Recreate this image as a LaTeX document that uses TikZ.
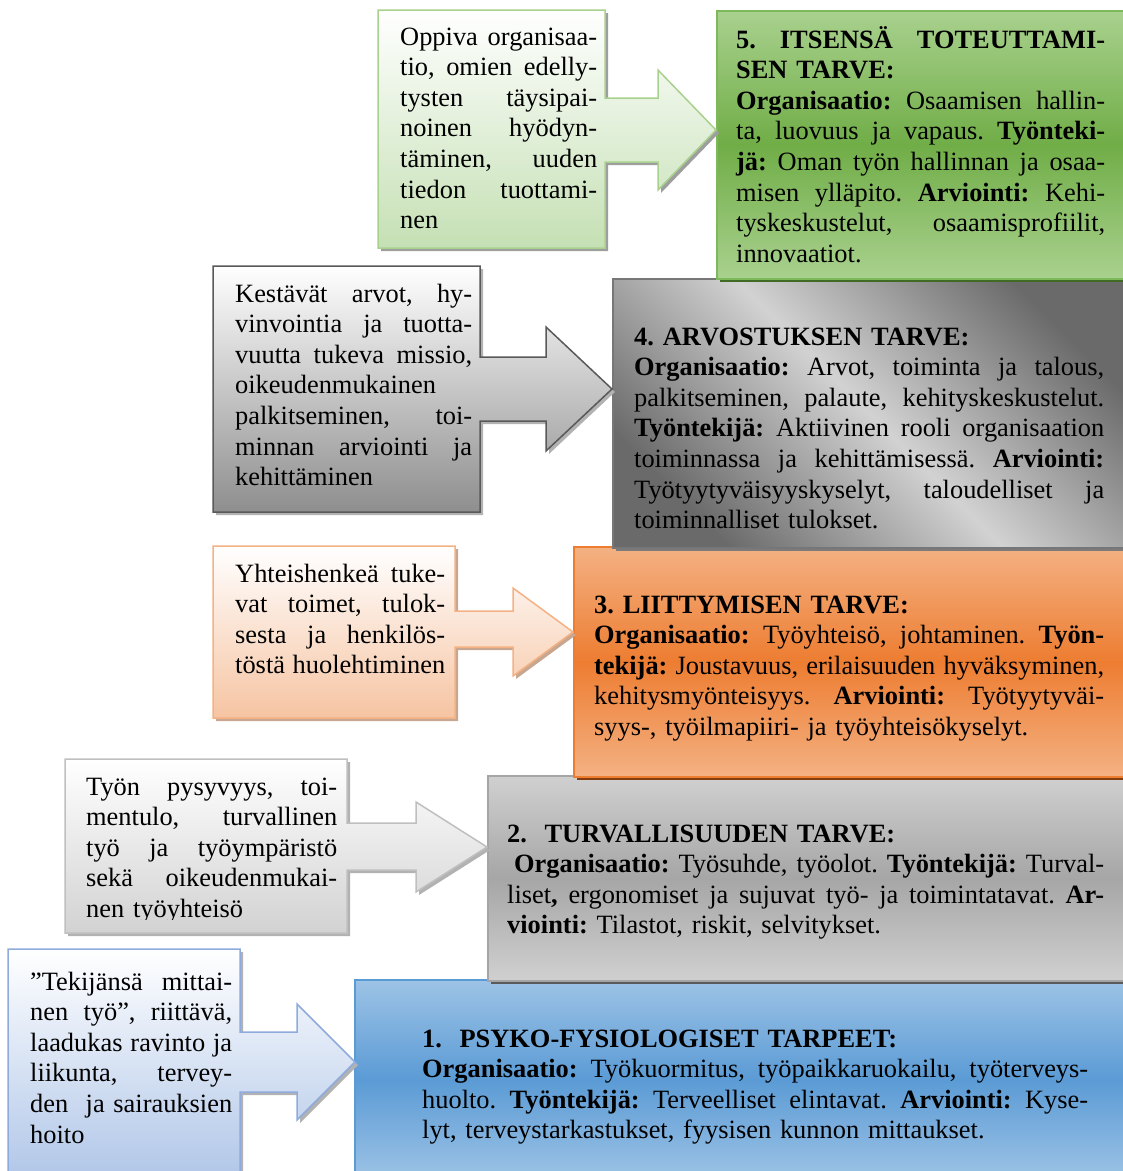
\documentclass[tikz,border=0pt]{standalone}
\usepackage{fontspec}
\setmainfont{Liberation Serif}
\usetikzlibrary{shadows}
\definecolor{gAtop}{HTML}{A9D18E}
\definecolor{gAmid}{HTML}{70AD47}
\definecolor{gAline}{HTML}{7DB85A}
\definecolor{gAsh}{HTML}{3F6B25}
\definecolor{grDark}{HTML}{6A6A6A}
\definecolor{grLight}{HTML}{D2D2D2}
\definecolor{grLine}{HTML}{777777}
\definecolor{grSh}{HTML}{5A5A5A}
\definecolor{orTop}{HTML}{F4B183}
\definecolor{orMid}{HTML}{ED7D31}
\definecolor{orLine}{HTML}{ED7D31}
\definecolor{orSh}{HTML}{843C0C}
\definecolor{g2Top}{HTML}{D0D0D0}
\definecolor{g2Mid}{HTML}{A6A6A6}
\definecolor{g2Line}{HTML}{A5A5A5}
\definecolor{blTop}{HTML}{9DC3E6}
\definecolor{blMid}{HTML}{5B9BD5}
\definecolor{blLine}{HTML}{5B9BD5}
\definecolor{aGreen}{HTML}{C5E0B4}
\definecolor{aGreenLine}{HTML}{A9D18E}
\definecolor{aGrey}{HTML}{8E8E8E}
\definecolor{aGreyLine}{HTML}{595959}
\definecolor{aOrange}{HTML}{F6C4A2}
\definecolor{aOrangeLine}{HTML}{F4B183}
\definecolor{aLight}{HTML}{D2D2D2}
\definecolor{aLightLine}{HTML}{BFBFBF}
\definecolor{aBlue}{HTML}{B0C6E8}
\definecolor{aBlueLine}{HTML}{8FAADC}
\newcommand\lw{100pt}
\newcommand\jl[1]{\leavevmode\hbox to\lw{\spaceskip=0.25em plus 20em minus 0.05em\relax #1}}
\begin{document}
\begin{tikzpicture}[x=1pt,y=-1pt,
  needbox/.style={line width=1.5pt, anchor=north west, inner sep=0pt},
  callout/.style={line width=1.5pt, line join=miter},
  txt/.style={anchor=base west, inner sep=0pt, text width=#1, align=left,
    execute at begin node={\renewcommand\lw{#1}},
    font=\fontsize{26.4pt}{30.6pt}\selectfont\frenchspacing},
  csh/.style={general shadow={shadow xshift=3pt, shadow yshift=-3pt, fill=#1}}
]
\useasboundingbox (0,0) rectangle (1123,1171);

% ---- need boxes (bottom to top) ----
\node[needbox, draw=blLine, top color=blTop, bottom color=blTop, middle color=blMid,
  minimum width=772pt, minimum height=200pt] (n1) at (354,979) {};
\node[needbox, draw=g2Line, top color=g2Top, bottom color=g2Top, middle color=g2Mid,
  minimum width=639pt, minimum height=205pt, csh=grSh] (n2) at (487,775) {};
\node[needbox, draw=orLine, top color=orTop, bottom color=orTop, middle color=orMid,
  minimum width=553pt, minimum height=230pt, csh=orSh] (n3) at (573,546) {};
\node[needbox, draw=grLine, top color=grDark, bottom color=grDark, middle color=grLight,
  shading angle=-45, minimum width=514pt, minimum height=269pt, csh=grSh!80] (n4) at (612,278) {};
\node[needbox, draw=gAline, top color=gAtop, bottom color=gAtop, middle color=gAmid,
  minimum width=410pt, minimum height=268pt, csh=gAsh] (n5) at (716,10) {};

% ---- callout arrows ----
\draw[callout, draw=aGreenLine, top color=white, bottom color=aGreen, csh=black!38]
  (378,10) -- (605,10) -- (605,98) -- (658,98) -- (658,70) -- (716,130)
  -- (658,190) -- (658,162) -- (605,162) -- (605,248) -- (378,248) -- cycle;
\draw[callout, draw=aGreyLine, top color=white, bottom color=aGrey, csh=black!30]
  (213,266) -- (480,266) -- (480,357) -- (546,357) -- (546,327) -- (612,389)
  -- (546,451) -- (546,421) -- (480,421) -- (480,512) -- (213,512) -- cycle;
\draw[callout, draw=aOrangeLine, top color=white, bottom color=aOrange, csh=orSh!45]
  (213,546) -- (455,546) -- (455,611) -- (513,611) -- (513,588) -- (573,632)
  -- (513,676) -- (513,647) -- (455,647) -- (455,718) -- (213,718) -- cycle;
\draw[callout, draw=aLightLine, top color=white, bottom color=aLight, csh=black!30]
  (65,759) -- (347,759) -- (347,823) -- (416,823) -- (416,802) -- (487,847)
  -- (416,892) -- (416,870) -- (347,870) -- (347,933) -- (65,933) -- cycle;
\draw[callout, draw=aBlueLine, top color=white, bottom color=aBlue, csh=black!30]
  (8,949) -- (240,949) -- (240,1032) -- (297,1032) -- (297,1004) -- (355,1062)
  -- (297,1120) -- (297,1092) -- (240,1092) -- (240,1180) -- (8,1180) -- cycle;

% ---- texts of need boxes ----
\node[txt=369pt] (t5) at (736,48) {%
\jl{\textbf{5. ITSENSÄ TOTEUTTAMI-}}\\
\textbf{SEN TARVE:}\\
\jl{\textbf{Organisaatio:} Osaamisen hallin-}\\
\jl{ta, luovuus ja vapaus. \textbf{Työnteki-}}\\
\jl{\textbf{jä:} Oman työn hallinnan ja osaa-}\\
\jl{misen ylläpito. \textbf{Arviointi:} Kehi-}\\
\jl{tyskeskustelut, osaamisprofiilit,}\\
innovaatiot.};

\node[txt=470pt] (t4) at (634,345) {%
\textbf{4. ARVOSTUKSEN TARVE:}\\
\jl{\textbf{Organisaatio:} Arvot, toiminta ja talous,}\\
\jl{palkitseminen, palaute, kehityskeskustelut.}\\
\jl{\textbf{Työntekijä:} Aktiivinen rooli organisaation}\\
\jl{toiminnassa ja kehittämisessä. \textbf{Arviointi:}}\\
\jl{Työtyytyväisyyskyselyt, taloudelliset ja}\\
toiminnalliset tulokset.};

\node[txt=510pt] (t3) at (594,613) {%
\textbf{3. LIITTYMISEN TARVE:}\\
\jl{\textbf{Organisaatio:} Työyhteisö, johtaminen. \textbf{Työn-}}\\
\jl{\textbf{tekijä:} Joustavuus, erilaisuuden hyväksyminen,}\\
\jl{kehitysmyönteisyys. \textbf{Arviointi:} Työtyytyväi-}\\
syys-, työilmapiiri- ja työyhteisökyselyt.};

\node[txt=597pt] (t2) at (507,842) {%
\textbf{2.\ \ TURVALLISUUDEN TARVE:}\\
\jl{\hspace*{7pt}\textbf{Organisaatio:} Työsuhde, työolot. \textbf{Työntekijä:} Turval-}\\
\jl{liset\textbf{,} ergonomiset ja sujuvat työ- ja toimintatavat. \textbf{Ar-}}\\
\textbf{viointi:} Tilastot, riskit, selvitykset.};

\node[txt=666pt] (t1) at (422,1047) {%
\textbf{1.\ \ PSYKO-FYSIOLOGISET TARPEET:}\\
\jl{\textbf{Organisaatio:} Työkuormitus, työpaikkaruokailu, työterveys-}\\
\jl{huolto. \textbf{Työntekijä:} Terveelliset elintavat. \textbf{Arviointi:} Kyse-}\\
lyt, terveystarkastukset, fyysisen kunnon mittaukset.};

% ---- texts of callouts ----
\node[txt=197pt] (c5) at (400,45) {%
\jl{Oppiva organisaa-}\\
\jl{tio, omien edelly-}\\
\jl{tysten täysipai-}\\
\jl{noinen hyödyn-}\\
\jl{täminen, uuden}\\
\jl{tiedon tuottami-}\\
nen};

\node[txt=237pt] (c4) at (235,302) {%
\jl{Kestävät arvot, hy-}\\
\jl{vinvointia ja tuotta-}\\
\jl{vuutta tukeva missio,}\\
oikeudenmukainen\\
\jl{palkitseminen, toi-}\\
\jl{minnan arviointi ja}\\
kehittäminen};

\node[txt=210pt] (c3) at (235,582) {%
\jl{Yhteishenkeä tuke-}\\
\jl{vat toimet, tulok-}\\
\jl{sesta ja henkilös-}\\
\jl{töstä huolehtiminen}};

\begin{scope}
\clip (65,759) rectangle (347,919);
\node[txt=251pt] (c2) at (86,795) {%
\jl{Työn pysyvyys, toi-}\\
\jl{mentulo, turvallinen}\\
\jl{työ ja työympäristö}\\
\jl{sekä oikeudenmukai-}\\
nen työyhteisö};
\end{scope}

\node[txt=202pt] (c1) at (30,990) {%
\jl{”Tekijänsä mittai-}\\
\jl{nen työ”, riittävä,}\\
\jl{laadukas ravinto ja}\\
\jl{liikunta, tervey-}\\
\jl{den\ \ ja sairauksien}\\
hoito};
\end{tikzpicture}
\end{document}
